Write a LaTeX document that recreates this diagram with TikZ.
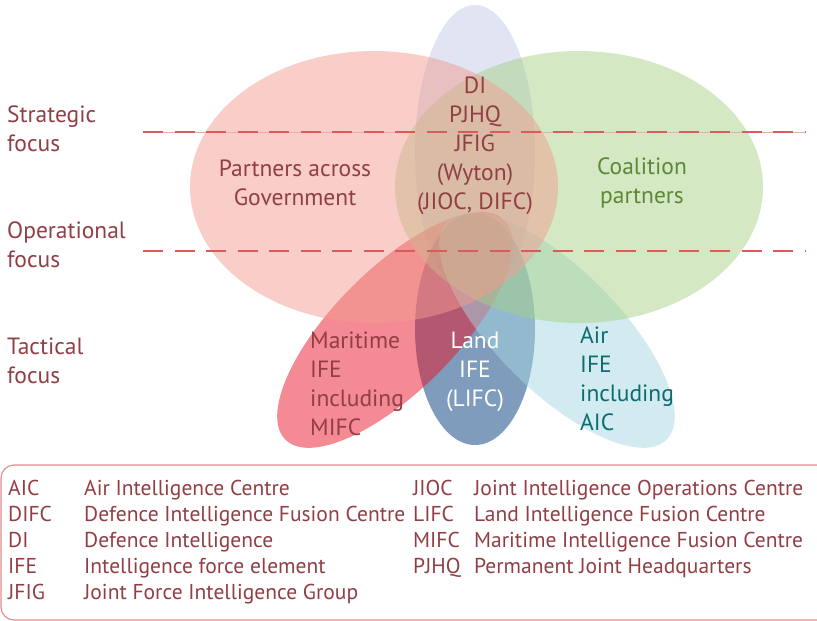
\documentclass[tikz,border=0pt]{standalone}
\usepackage{fontspec}
\setmainfont{PT Sans}
\definecolor{cPink}{RGB}{243,157,145}
\definecolor{cGreen}{RGB}{167,209,135}
\definecolor{cLav}{RGB}{193,201,231}
\definecolor{cLand}{RGB}{0,57,121}
\definecolor{cMar}{RGB}{233,21,39}
\definecolor{cAir}{RGB}{165,215,225}
\definecolor{tRed}{RGB}{145,62,68}
\definecolor{tGreen}{RGB}{94,136,56}
\definecolor{tTeal}{RGB}{12,108,112}
\definecolor{dashRed}{RGB}{217,92,92}
\definecolor{faint}{RGB}{232,175,175}
\definecolor{boxRed}{RGB}{228,140,140}
\begin{document}
\begin{tikzpicture}[x=1bp,y=-1bp,
  blob/.style={fill=#1,fill opacity=0.5,draw=none},
  lbl/.style={inner sep=0pt,text=tRed,font=\fontsize{23.6}{29}\selectfont},
  leg/.style={inner sep=0pt,text=tRed,font=\fontsize{21.6}{26}\selectfont},
  focusline/.style={draw=dashRed,line width=2.6bp,dash pattern=on 20bp off 11.5bp},
  legbox/.style={draw=boxRed,line width=1.1bp,rounded corners=13bp}]
\useasboundingbox (0,0) rectangle (817,621);
\clip (0,0) rectangle (817,621);
% ellipses
\fill[blob=cLav] (475,152) ellipse [x radius=60, y radius=147];
\fill[blob=cLand] (475,329) ellipse [x radius=60, y radius=116];
\fill[blob=cMar, rotate around={45:(395,330)}] (395,330) ellipse [x radius=155, y radius=61];
\fill[blob=cAir, rotate around={-45:(557,330)}] (557,330) ellipse [x radius=155, y radius=61];
\fill[blob=cGreen] (579,187) ellipse [x radius=184, y radius=136];
\fill[blob=cPink] (374,187) ellipse [x radius=184, y radius=136];
% focus lines
\coordinate (s1) at (143,132);
\coordinate (s2) at (806,132);
\coordinate (o1) at (143,251);
\coordinate (o2) at (806,251);
\draw[faint,line width=0.8bp] (s1) -- (s2);
\draw[focusline] (s1) -- (s2);
\draw[focusline] (o1) -- (o2);
% left labels
\node[lbl,anchor=west,align=left] (strat) at (7,129) {Strategic\\focus};
\node[lbl,anchor=west,align=left] (oper) at (7,245) {Operational\\focus};
\node[lbl,anchor=west,align=left] (tact) at (7,361) {Tactical\\focus};
% region labels
\node[lbl,align=center] (core) at (475,146) {DI\\PJHQ\\JFIG\\(Wyton)\\(JIOC, DIFC)};
\node[lbl,align=center] (pag) at (295,183) {Partners across\\Government};
\node[lbl,align=center,text=tGreen] (coal) at (642,183) {Coalition\\partners};
\node[lbl,anchor=west,align=left] (mar) at (310,384) {Maritime\\IFE\\including\\MIFC};
\node[lbl,align=center,text=white] (land) at (475,372) {Land\\IFE\\(LIFC)};
\node[lbl,anchor=west,align=left,text=tTeal] (air) at (580,379) {Air\\IFE\\including\\AIC};
% legend
\draw[legbox] (1,465) rectangle (840,620);
\foreach \i/\ab/\desc in {0/AIC/Air Intelligence Centre,1/DIFC/Defence Intelligence Fusion Centre,2/DI/Defence Intelligence,3/IFE/Intelligence force element,4/JFIG/Joint Force Intelligence Group}{
  \node[leg,anchor=base west] (la\i) at (8,{495+26.2*\i}) {\ab};
  \node[leg,anchor=base west] (ld\i) at (84,{495+26.2*\i}) {\desc};
}
\foreach \i/\ab/\desc in {0/JIOC/Joint Intelligence Operations Centre,1/LIFC/Land Intelligence Fusion Centre,2/MIFC/Maritime Intelligence Fusion Centre,3/PJHQ/Permanent Joint Headquarters}{
  \node[leg,anchor=base west] (ra\i) at (413,{495+26.2*\i}) {\ab};
  \node[leg,anchor=base west] (rd\i) at (474,{495+26.2*\i}) {\desc};
}
\end{tikzpicture}
\end{document}
